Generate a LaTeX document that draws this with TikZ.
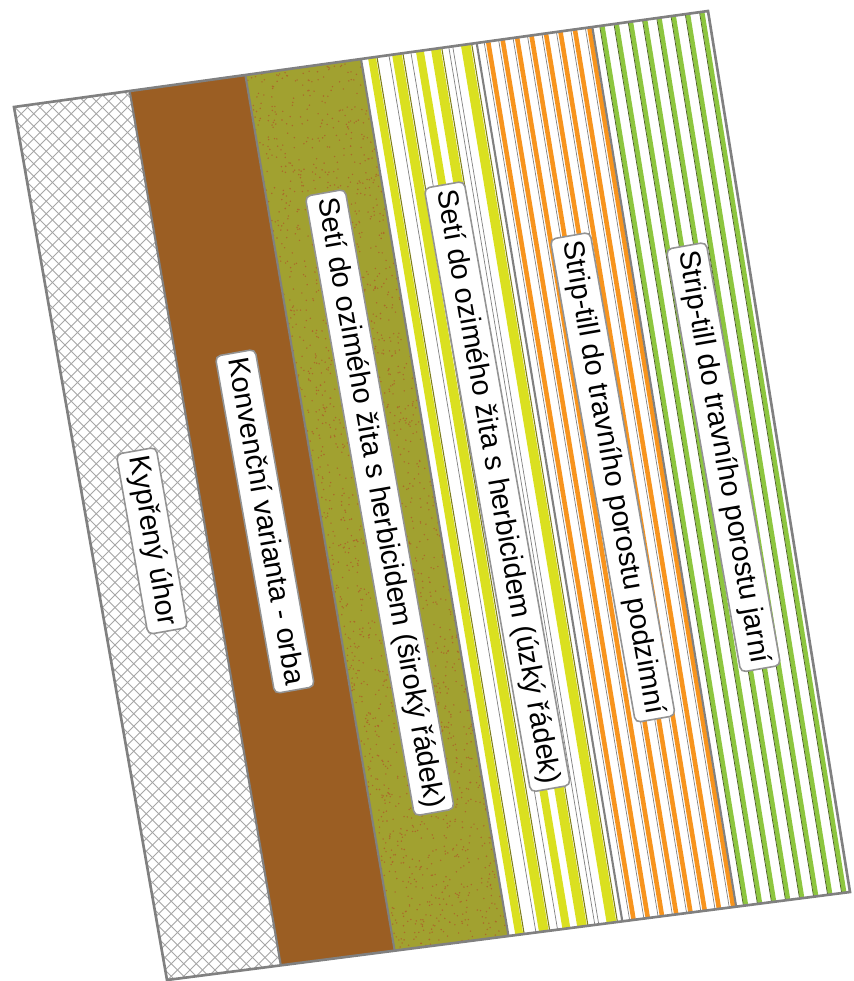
\documentclass[tikz,border=0pt]{standalone}
\usepackage{fontspec}
\setmainfont{Liberation Sans}
\usetikzlibrary{calc}

\definecolor{orba}{RGB}{155,94,35}
\definecolor{oliva}{RGB}{161,161,48}
\definecolor{tecka}{RGB}{172,104,42}
\definecolor{zluta}{RGB}{218,224,32}
\definecolor{olivcara}{RGB}{125,125,25}
\definecolor{oranz}{RGB}{247,148,30}
\definecolor{zelena}{RGB}{141,198,63}
\definecolor{tmzel}{RGB}{70,90,30}

\tikzset{
  lbl/.style={draw=gray!85, fill=white, line width=0.9pt, rounded corners=3pt,
    rotate=-80, anchor=west, inner xsep=3pt, inner ysep=3.5pt,
    text height=12.4pt, text depth=3.6pt,
    font=\fontsize{16.5}{18}\selectfont},
  hranice/.style={draw=gray, line width=1.2pt},
  mriz/.style={draw=gray!70, line width=0.5pt},
}

% pruh: cislo pasu, posun v px, sirka cary, barva
\newcommand{\pruh}[4]{\pgfmathsetmacro\fr{(#1+(#2)/116)/6}%
  \draw[#4, line width=#3] ($(TL)!\fr!(TR)$) -- ($(BL)!\fr!(BR)$);}

\begin{document}
\begin{tikzpicture}[x=0.02cm, y=-0.02cm]
  \useasboundingbox (0,0) rectangle (854,981);
  \coordinate (TL) at (14,107);
  \coordinate (TR) at (708,11);
  \coordinate (BR) at (850,892);
  \coordinate (BL) at (167,980);
  \foreach \k in {0,...,6} {
    \coordinate (t\k) at ($(TL)!\k/6!(TR)$);
    \coordinate (b\k) at ($(BL)!\k/6!(BR)$);
  }

  % plochy pasu
  \fill[white] (t0) -- (t1) -- (b1) -- (b0) -- cycle;
  \fill[orba] (t1) -- (t2) -- (b2) -- (b1) -- cycle;
  \fill[oliva] (t2) -- (t3) -- (b3) -- (b2) -- cycle;
  \fill[white] (t3) -- (t6) -- (b6) -- (b3) -- cycle;

  \begin{scope}
    \clip (t0) -- (t1) -- (b1) -- (b0) -- cycle;
    \foreach \t in {-50,...,50} {
      \draw[mriz] ({90+\t*12.5-500},{545-500}) -- ({90+\t*12.5+500},{545+500});
      \draw[mriz] ({90+\t*12.5+500},{545-500}) -- ({90+\t*12.5-500},{545+500});
    }
  \end{scope}

  \begin{scope}
    \clip (t2) -- (t3) -- (b3) -- (b2) -- cycle;
    \pgfmathsetseed{42}
    \foreach \i in {1,...,2000} {
      \pgfmathsetmacro\ru{2+rnd}
      \pgfmathsetmacro\rv{rnd}
      \fill[tecka] ({14+\ru*115.7+\rv*147.5},{107-\ru*16+\rv*877}) circle (0.45pt);
    }
  \end{scope}

  \pruh{3}{11}{4.5pt}{zluta}
  \pruh{3}{16}{0.6pt}{olivcara}
  \pruh{3}{28}{0.4pt}{gray}
  \pruh{3}{36}{5.5pt}{zluta}
  \pruh{3}{42}{0.6pt}{olivcara}
  \pruh{3}{50}{0.4pt}{gray}
  \pruh{3}{59}{4.5pt}{zluta}
  \pruh{3}{75}{5.5pt}{zluta}
  \pruh{3}{81}{0.6pt}{olivcara}
  \pruh{3}{88}{0.4pt}{gray}
  \pruh{3}{92}{0.4pt}{gray}
  \pruh{3}{105}{5.5pt}{zluta}
  \pruh{3}{111}{0.6pt}{olivcara}
  \foreach \o in {11.5,26,...,113} {
    \pruh{4}{\o}{2.6pt}{oranz}
    \pruh{4}{\o-4}{0.4pt}{gray}
  }
  \foreach \o in {10,24.3,...,111} {
    \pruh{5}{\o}{2.6pt}{zelena}
    \pruh{5}{\o-2.6}{0.4pt}{tmzel}
  }

  \foreach \k in {1,...,5} \draw[hranice] (t\k) -- (b\k);
  \draw[hranice, line width=1.5pt] (TL) -- (TR) -- (BR) -- (BL) -- cycle;

  \node[lbl] (l1) at (136,450) {Kypřený úhor};
  \node[lbl] (l2) at (235,352) {Konvenční varianta - orba};
  \node[lbl] (l3) at (325,192) {Setí do ozimého žita s herbicidem (široký řádek)};
  \node[lbl] (l4) at (444,184) {Setí do ozimého žita s herbicidem (úzký řádek)};
  \node[lbl] (l5) at (570,235) {Strip-till do travního porostu podzimní};
  \node[lbl] (l6) at (686,245) {Strip-till do travního porostu jarní};
\end{tikzpicture}
\end{document}
